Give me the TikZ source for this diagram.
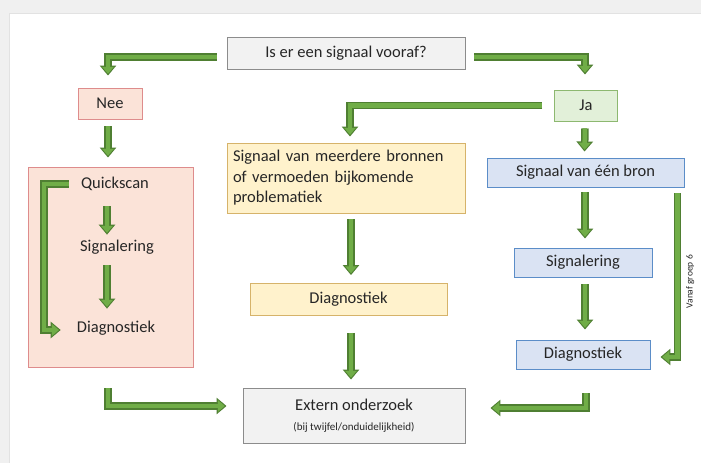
\documentclass[tikz,border=0pt]{standalone}
\usepackage{fontspec}
\setmainfont{Carlito}
\usetikzlibrary{arrows.meta}

\definecolor{framegray}{HTML}{F0F0F0}
\definecolor{frameline}{HTML}{E2E2E2}
\definecolor{greyfill}{HTML}{F2F2F2}
\definecolor{greyline}{HTML}{8C8C8C}
\definecolor{neefill}{HTML}{FBE3D8}
\definecolor{neeline}{HTML}{DE8C8C}
\definecolor{jafill}{HTML}{E2F0D9}
\definecolor{jaline}{HTML}{8DB870}
\definecolor{geelfill}{HTML}{FFF2CC}
\definecolor{geelline}{HTML}{D6B36A}
\definecolor{blauwfill}{HTML}{DAE3F3}
\definecolor{blauwline}{HTML}{5B8DC8}
\definecolor{pijlgroen}{HTML}{70AD47}
\definecolor{pijldonker}{HTML}{4F7F32}
\definecolor{tekst}{HTML}{262626}

\tikzset{
  box/.style={draw, rectangle, line width=0.9pt, text=tekst, font=\fontsize{16.5}{19}\selectfont},
  grijs/.style={box, draw=greyline, fill=greyfill},
  nee/.style={box, draw=neeline, fill=neefill},
  ja/.style={box, draw=jaline, fill=jafill},
  geel/.style={box, draw=geelline, fill=geelfill},
  blauw/.style={box, draw=blauwline, fill=blauwfill},
  label/.style={text=tekst, font=\fontsize{16.5}{19}\selectfont, inner sep=2pt},
  flow/.style={draw=pijldonker, line width=7.5pt, line join=miter,
    -{Triangle[width=16pt,length=10pt]},
    postaction={draw=pijlgroen, line width=4.5pt, shorten >=1.8pt,
      -{Triangle[width=11.5pt,length=7pt]}}},
}

\begin{document}
\begin{tikzpicture}[x=1pt,y=-1pt]
  % frame of the screenshot
  \fill[framegray] (0,0) rectangle (701,463);
  \fill[frameline] (9,13) rectangle (701,463);
  \fill[white] (10,14) rectangle (701,463);
  \useasboundingbox (0,0) rectangle (701,463);

  % question
  \node at (346,53) [grijs, minimum width=238pt, minimum height=32pt] (q) {Is er een signaal vooraf?};
  \node at (110,103.5) [nee, minimum width=64pt, minimum height=31pt] (nee) {Nee};
  \node at (586,105.5) [ja, minimum width=63pt, minimum height=31pt] (ja) {Ja};

  % left column
  \node at (110.5,267) [nee, minimum width=165pt, minimum height=200pt] (neebox) {};
  \node at (115,184) [label] (quick) {Quickscan};
  \node at (117,247) [label] (sig1) {Signalering};
  \node at (116,328) [label] (diag1) {Diagnostiek};

  % middle column
  \node at (346,178) [geel, minimum width=238pt, minimum height=70pt, text width=226pt, align=left,
    font=\fontsize{16.5}{20.5}\selectfont] (meer) {Signaal van meerdere bronnen\\of vermoeden bijkomende\\problematiek};
  \node at (348.5,299.5) [geel, minimum width=197pt, minimum height=32pt] (diag2) {Diagnostiek};
  \node at (354,415.5) [grijs, minimum width=222pt, minimum height=55pt, align=center]
    (extern) {Extern onderzoek\\[1pt]{\fontsize{11}{13}\selectfont(bij twijfel/onduidelijkheid)}};

  % right column
  \node at (585.5,172.5) [blauw, minimum width=197pt, minimum height=29pt] (een) {Signaal van één bron};
  \node at (583,262.5) [blauw, minimum width=138pt, minimum height=29pt] (sig3) {Signalering};
  \node at (583,354.5) [blauw, minimum width=134pt, minimum height=29pt] (diag3) {Diagnostiek};

  % arrows
  \draw[flow] ([xshift=-10pt,yshift=-4pt]q.west) -| ([xshift=-2pt,yshift=12pt]nee.north);
  \draw[flow] ([xshift=9pt,yshift=-4pt]q.east) -| ([xshift=-1pt,yshift=15pt]ja.north);
  \draw[flow] ([xshift=-12pt]ja.west) -| ([xshift=4pt,yshift=6pt]meer.north);
  \draw[flow] ([xshift=-1pt,yshift=-7pt]ja.south) -- ([xshift=-1pt,yshift=6pt]een.north);
  \draw[flow] ([xshift=-2pt,yshift=-7pt]nee.south) -- ([xshift=-2.5pt,yshift=9pt]neebox.north);

  \draw[flow] ([xshift=-8pt,yshift=-13pt]quick.south) -- ([xshift=-10pt,yshift=3pt]sig1.north);
  \draw[flow] ([xshift=-10pt,yshift=-9pt]sig1.south) -- ([xshift=-9pt,yshift=10pt]diag1.north);
  \draw[flow] ([xshift=-10pt]quick.west) -- ++(-25,0) |- ([xshift=-14pt,yshift=-2pt]diag1.west);

  \draw[flow] ([xshift=5pt,yshift=-6pt]meer.south) -- ([xshift=2.5pt,yshift=8pt]diag2.north);
  \draw[flow] ([xshift=2.5pt,yshift=-17pt]diag2.south) -- ([xshift=-3pt,yshift=8pt]extern.north);

  \draw[flow] ([xshift=-0.5pt,yshift=-5pt]een.south) -- ([xshift=2pt,yshift=9pt]sig3.north);
  \draw[flow] ([xshift=2pt,yshift=-7pt]sig3.south) -- ([xshift=2pt,yshift=10pt]diag3.north);
  \draw[flow] ([xshift=-7pt,yshift=-6pt]een.south east) |- ([xshift=10pt,yshift=-2.5pt]diag3.east)
    node[pos=0.27, rotate=90, anchor=north, inner sep=5pt, text=tekst, font=\fontsize{9.5}{11}\selectfont] {Vanaf groep 6};

  \draw[flow] ([xshift=-2.5pt,yshift=-21pt]neebox.south) |- ([xshift=-16pt,yshift=9.5pt]extern.west);
  \draw[flow] ([xshift=3pt,yshift=-24pt]diag3.south) |- ([xshift=25pt,yshift=7.5pt]extern.east);
\end{tikzpicture}
\end{document}
